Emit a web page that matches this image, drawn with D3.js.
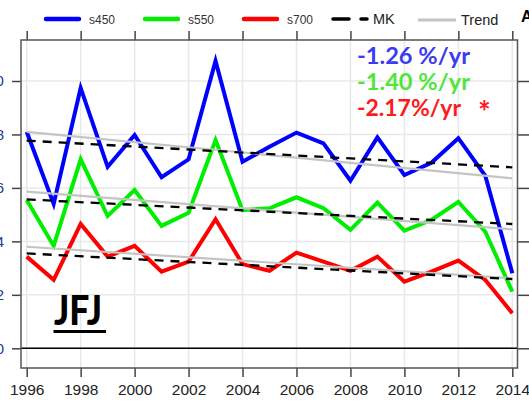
<!DOCTYPE html>
<html>
<head>
<meta charset="utf-8">
<script src="https://cdn.jsdelivr.net/npm/d3@7"></script>
<style>
  html, body { margin: 0; padding: 0; background: #fff; overflow: hidden; }
  svg { display: block; }
</style>
</head>
<body>
<svg id="chart"></svg>
<script>
// values
const years = d3.range(1996, 2015);
const s450 = [8.10, 5.40, 9.74, 6.79, 7.98, 6.40, 7.07, 10.75, 6.98, 7.54, 8.07, 7.67, 6.27, 7.89, 6.48, 6.94, 7.86, 6.45, 2.81];
const s550 = [5.55, 3.83, 7.07, 4.95, 5.92, 4.58, 5.07, 7.79, 5.17, 5.24, 5.65, 5.24, 4.43, 5.45, 4.40, 4.80, 5.48, 4.36, 2.12];
const s700 = [3.43, 2.56, 4.65, 3.43, 3.83, 2.87, 3.24, 4.83, 3.15, 2.90, 3.58, 3.24, 2.90, 3.43, 2.49, 2.87, 3.28, 2.56, 1.31];

// straight fits, [value at 1996, value at 2014]
const trendEnds = [[8.10, 6.36], [5.86, 4.45], [3.80, 2.62]];
const mkEnds = [[7.77, 6.77], [5.57, 4.65], [3.55, 2.59]];

const xTicks = d3.range(1996, 2015, 2);
const yTicks = [0, 2, 4, 6, 8, 10];

const seriesNames = ["s450", "s550", "s700"];
const seriesColors = ["#0000ff", "#00ee00", "#ff0000"];
const rateLabels = ["-1.26 %/yr", "-1.40 %/yr", "-2.17%/yr"];
const rateColors = ["#3b3bf2", "#4fe63c", "#ff1a1a"];

const width = 529;
const height = 404;
const box = { left: 21, right: 517.5, top: 40, bottom: 368 };

const svg = d3.select("#chart")
  .attr("width", width)
  .attr("height", height);

const x = d3.scaleLinear().domain([1996, 2014]).range([26.7, 512.3]);
const y = d3.scaleLinear().domain([0, 10]).range([348.3, 81]);

// grid
const grid = svg.append("g").attr("stroke", "#e8e8e8").attr("stroke-width", 1.5);
grid.selectAll("line.gx")
  .data(xTicks)
  .join("line")
  .attr("class", "gx")
  .attr("x1", d => x(d)).attr("x2", d => x(d))
  .attr("y1", box.top).attr("y2", box.bottom);
grid.selectAll("line.gy")
  .data(yTicks)
  .join("line")
  .attr("class", "gy")
  .attr("x1", box.left).attr("x2", box.right)
  .attr("y1", d => y(d)).attr("y2", d => y(d));

// zero line
svg.append("line")
  .attr("x1", box.left).attr("x2", box.right)
  .attr("y1", y(0)).attr("y2", y(0))
  .attr("stroke", "#000").attr("stroke-width", 1.5);

// axes (ticks on all four sides)
const tickLen = 9;
const bottomAxis = svg.append("g")
  .attr("transform", `translate(0,${box.bottom})`)
  .call(d3.axisBottom(x).tickValues(xTicks).tickFormat(d3.format("d")).tickSize(tickLen).tickPadding(7));
const topAxis = svg.append("g")
  .attr("transform", `translate(0,${box.top})`)
  .call(d3.axisTop(x).tickValues(xTicks).tickFormat("").tickSize(tickLen));
// the y labels sit mostly outside the page, as in the reference
const leftAxis = svg.append("g")
  .attr("transform", `translate(${box.left},0)`)
  .call(d3.axisLeft(y).tickValues(yTicks).tickSize(tickLen).tickPadding(8));
const rightAxis = svg.append("g")
  .attr("transform", `translate(${box.right},0)`)
  .call(d3.axisRight(y).tickValues(yTicks).tickFormat("").tickSize(tickLen + 4));

[bottomAxis, topAxis, leftAxis, rightAxis].forEach(a => {
  a.select(".domain").remove();
  a.selectAll(".tick line").attr("stroke", "#444").attr("stroke-width", 1.5);
});
bottomAxis.selectAll("text")
  .attr("font-family", "Liberation Sans, Arial, sans-serif")
  .attr("font-size", 15.5)
  .attr("fill", "#222");
leftAxis.selectAll("text")
  .attr("font-family", "Liberation Sans, Arial, sans-serif")
  .attr("font-size", 15.5)
  .attr("fill", "#1f3d99");

// plot box
svg.append("rect")
  .attr("x", box.left).attr("y", box.top)
  .attr("width", box.right - box.left).attr("height", box.bottom - box.top)
  .attr("fill", "none").attr("stroke", "#555").attr("stroke-width", 1.5);

// data lines
const line = d3.line().x((d, i) => x(years[i])).y(d => y(d));
svg.append("g").selectAll("path")
  .data([s450, s550, s700])
  .join("path")
  .attr("d", line)
  .attr("fill", "none")
  .attr("stroke", (d, i) => seriesColors[i])
  .attr("stroke-width", 4)
  .attr("stroke-linejoin", "miter");

// trend lines
svg.append("g").selectAll("line")
  .data(trendEnds)
  .join("line")
  .attr("x1", x(1996)).attr("x2", x(2014))
  .attr("y1", d => y(d[0])).attr("y2", d => y(d[1]))
  .attr("stroke", "#c4c4c4").attr("stroke-width", 2.2);

// Mann-Kendall lines
svg.append("g").selectAll("line")
  .data(mkEnds)
  .join("line")
  .attr("x1", x(1996)).attr("x2", x(2014))
  .attr("y1", d => y(d[0])).attr("y2", d => y(d[1]))
  .attr("stroke", "#000").attr("stroke-width", 2.3)
  .attr("stroke-dasharray", "9,7");

// legend
const legend = svg.append("g").attr("font-family", "Liberation Sans, Arial, sans-serif").attr("fill", "#333");
const legX = [46, 145, 244];
seriesNames.forEach((name, i) => {
  legend.append("line")
    .attr("x1", legX[i]).attr("x2", legX[i] + 33)
    .attr("y1", 19).attr("y2", 19)
    .attr("stroke", seriesColors[i]).attr("stroke-width", 4.5).attr("stroke-linecap", "round");
  legend.append("text")
    .attr("x", legX[i] + 43).attr("y", 23.5)
    .attr("font-size", 12)
    .text(name);
});
legend.append("line")
  .attr("x1", 333).attr("x2", 349).attr("y1", 19).attr("y2", 19)
  .attr("stroke", "#000").attr("stroke-width", 3.5).attr("stroke-linecap", "round");
legend.append("line")
  .attr("x1", 361).attr("x2", 367).attr("y1", 19).attr("y2", 19)
  .attr("stroke", "#000").attr("stroke-width", 3.5).attr("stroke-linecap", "round");
legend.append("text")
  .attr("x", 373).attr("y", 23.5).attr("font-size", 14.5).attr("fill", "#222")
  .text("MK");
legend.append("line")
  .attr("x1", 418).attr("x2", 456).attr("y1", 20).attr("y2", 20)
  .attr("stroke", "#c4c4c4").attr("stroke-width", 3);
legend.append("text")
  .attr("x", 461).attr("y", 24.5).attr("font-size", 14.5).attr("fill", "#222")
  .text("Trend");

// cut-off glyph in the top right corner
svg.append("text")
  .attr("x", 521).attr("y", 22)
  .attr("font-family", "Liberation Sans, Arial, sans-serif")
  .attr("font-weight", "bold").attr("font-size", 16)
  .attr("fill", "#000")
  .text("A");

// rate annotations
const rates = svg.append("g")
  .attr("font-family", "Lato, 'Open Sans', sans-serif")
  .attr("font-weight", "bold")
  .attr("font-size", 22);
const rateY = [63.5, 89.5, 116];
const rateW = [113, 113, 104];
rateLabels.forEach((t, i) => {
  rates.append("text")
    .attr("x", 357).attr("y", rateY[i])
    .attr("fill", rateColors[i])
    .attr("textLength", rateW[i]).attr("lengthAdjust", "spacingAndGlyphs")
    .text(t);
});
rates.append("text")
  .attr("x", 478).attr("y", 123)
  .attr("font-size", 30)
  .attr("fill", rateColors[2])
  .text("*");

// station label
svg.append("text")
  .attr("x", 54).attr("y", 325)
  .attr("font-family", "Lato, 'Open Sans', sans-serif")
  .attr("font-weight", "900")
  .attr("font-size", 41)
  .attr("fill", "#000")
  .attr("textLength", 48).attr("lengthAdjust", "spacingAndGlyphs")
  .text("JFJ");
svg.append("line")
  .attr("x1", 53.5).attr("x2", 106).attr("y1", 331.5).attr("y2", 331.5)
  .attr("stroke", "#000").attr("stroke-width", 3);
</script>
</body>
</html>
